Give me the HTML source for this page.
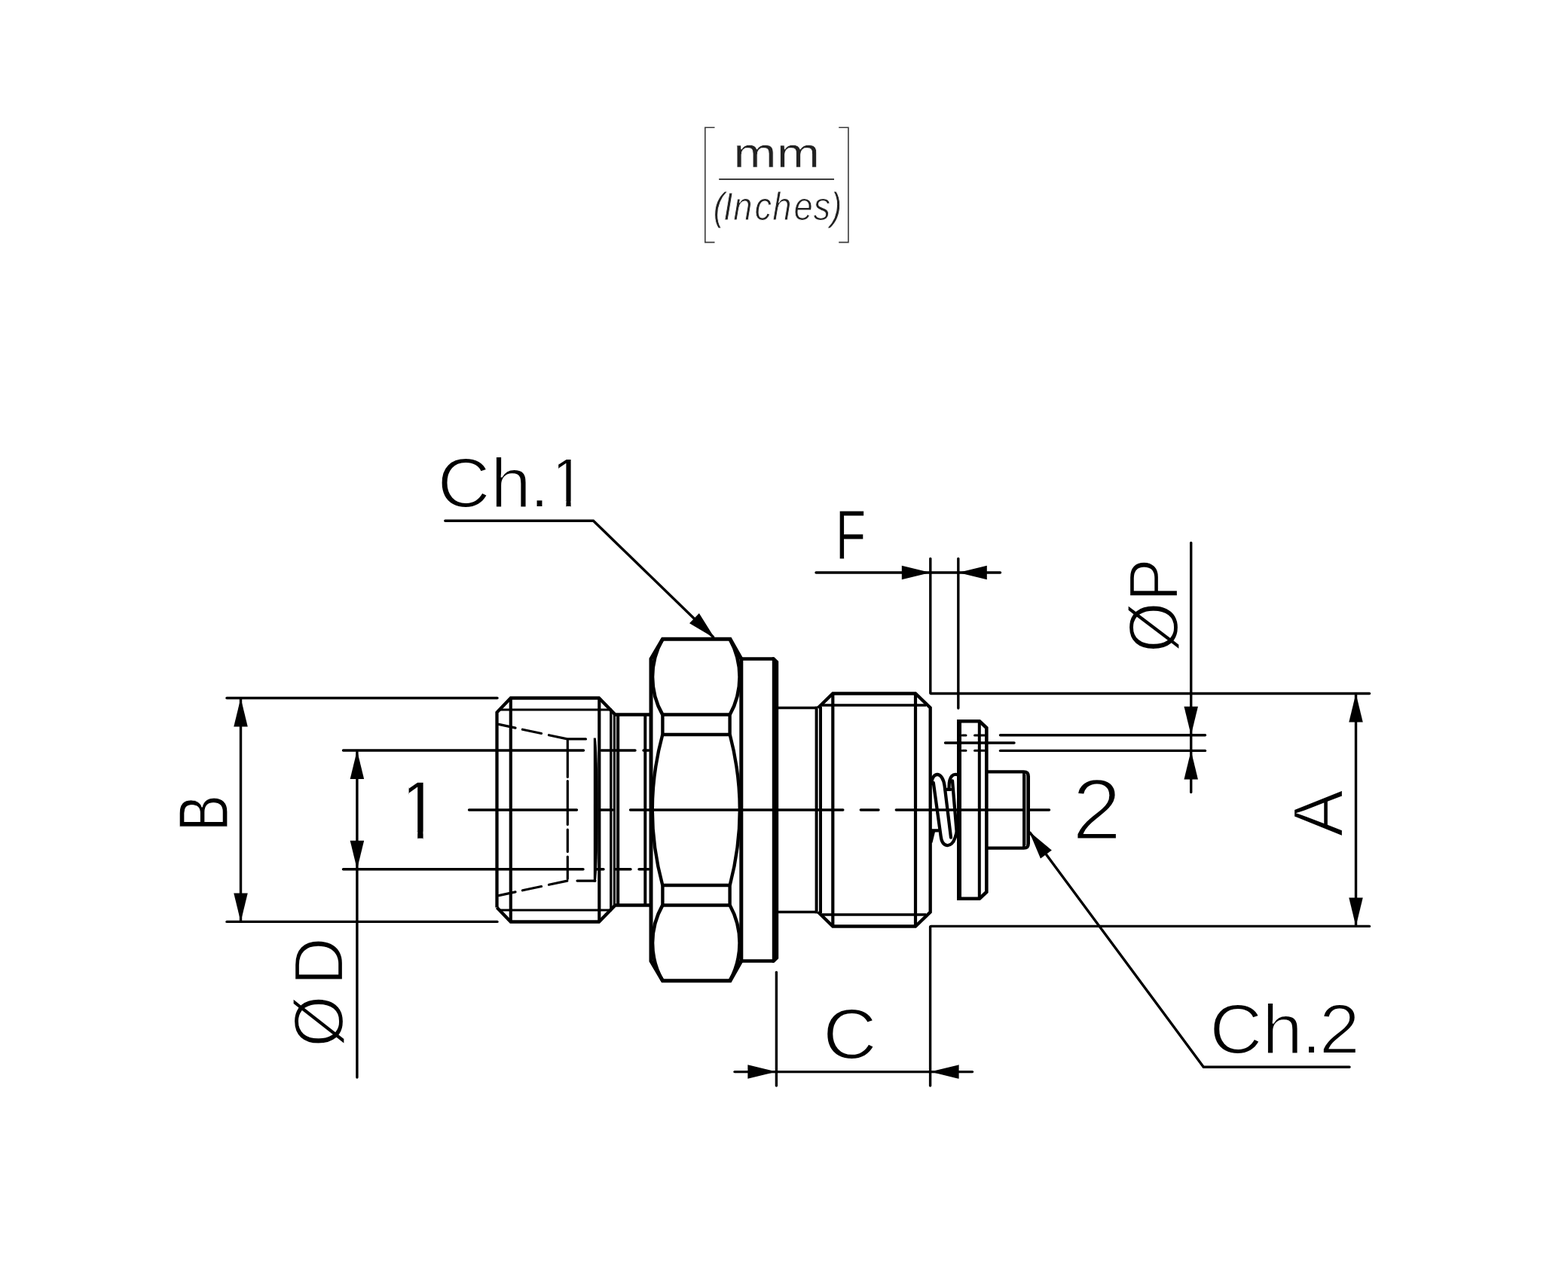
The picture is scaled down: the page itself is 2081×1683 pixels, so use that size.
<!DOCTYPE html>
<html lang="en">
<head>
<meta charset="utf-8">
<title>Dimensional drawing</title>
<style>
html,body{margin:0;padding:0;background:#fff}
body{width:2081px;height:1683px;overflow:hidden}
svg{display:block}
svg text{font-family:"Liberation Sans",sans-serif;white-space:pre}
</style>
</head>
<body>
<svg width="2081" height="1683" viewBox="0 0 2081 1683">
<rect width="2081" height="1683" fill="#fff"/>
<g id="units" stroke="#3c3c3c" fill="none" stroke-width="1.6">
<path d="M948.5 169.2H935.8V321.6H948.5"/>
<path d="M1113.2 169.2H1125.9V321.6H1113.2"/>
<path d="M954.2 237.9H1107" stroke="#222" stroke-width="1.8"/>
</g>
<g id="unit-text">
<text transform="translate(0 222) scale(1.2500 1)" x="778.51 824.51" font-size="55.2" fill="#222" stroke="#fff" stroke-width="0.6">mm</text>
<text transform="translate(0 292.1) scale(0.8900 1)" x="1063.42 1078.63 1093.6 1125.42 1151.92 1183.74 1212.91 1238.55" font-size="51" fill="#222" font-style="italic" stroke="#fff" stroke-width="1">(Inches)</text>
</g>
<g id="dims" stroke="#000" fill="none" stroke-linecap="round">
<line x1="301" y1="926.5" x2="660" y2="926.5" stroke-width="3.4"/>
<line x1="301" y1="1223.4" x2="660" y2="1223.4" stroke-width="3.4"/>
<line x1="319.5" y1="928" x2="319.5" y2="1222" stroke-width="3.4"/>
<polygon points="319.5,926.5 328.75,964.5 310.25,964.5" fill="#000" stroke="none"/>
<polygon points="319.5,1223.4 310.25,1185.4 328.75,1185.4" fill="#000" stroke="none"/>
<line x1="455.5" y1="996" x2="774.5" y2="996" stroke-width="3.4"/>
<line x1="455.5" y1="1153.8" x2="774" y2="1153.8" stroke-width="3.4"/>
<line x1="473.9" y1="998" x2="473.9" y2="1430" stroke-width="3.4"/>
<polygon points="473.9,996 483.15,1034 464.65,1034" fill="#000" stroke="none"/>
<polygon points="473.9,1153.8 464.65,1115.8 483.15,1115.8" fill="#000" stroke="none"/>
<line x1="798" y1="996" x2="843" y2="996" stroke-width="3.4"/>
<line x1="854" y1="996" x2="861" y2="996" stroke-width="3.4"/>
<line x1="792" y1="1153.8" x2="801" y2="1153.8" stroke-width="3.4"/>
<line x1="816" y1="1153.8" x2="837" y2="1153.8" stroke-width="3.4"/>
<line x1="848" y1="1153.8" x2="861" y2="1153.8" stroke-width="3.4"/>
<line x1="622.5" y1="1075" x2="765.5" y2="1075" stroke-width="3.4"/>
<line x1="797" y1="1075" x2="813" y2="1075" stroke-width="3.4"/>
<line x1="836.5" y1="1075" x2="1118.8" y2="1075" stroke-width="3.4"/>
<line x1="1142.3" y1="1075" x2="1166" y2="1075" stroke-width="3.4"/>
<line x1="1189.3" y1="1075" x2="1392.5" y2="1075" stroke-width="3.4"/>
<line x1="1083" y1="760" x2="1327.5" y2="760" stroke-width="3.4"/>
<line x1="1234.8" y1="741.5" x2="1234.8" y2="920" stroke-width="3.4"/>
<line x1="1271.8" y1="741.5" x2="1271.8" y2="940" stroke-width="3.4"/>
<polygon points="1234.8,760 1196.8,769.25 1196.8,750.75" fill="#000" stroke="none"/>
<polygon points="1271.8,760 1309.8,750.75 1309.8,769.25" fill="#000" stroke="none"/>
<line x1="1235.5" y1="920.5" x2="1817.5" y2="920.5" stroke-width="3.4"/>
<line x1="1235.5" y1="1229.4" x2="1817.5" y2="1229.4" stroke-width="3.4"/>
<line x1="1799.5" y1="922" x2="1799.5" y2="1228" stroke-width="3.4"/>
<polygon points="1799.5,920.5 1808.75,958.5 1790.25,958.5" fill="#000" stroke="none"/>
<polygon points="1799.5,1229.4 1790.25,1191.4 1808.75,1191.4" fill="#000" stroke="none"/>
<line x1="1580.7" y1="720.5" x2="1580.7" y2="1051.5" stroke-width="3.4"/>
<line x1="1327.5" y1="975.7" x2="1599.5" y2="975.7" stroke-width="3.4"/>
<line x1="1327.5" y1="996.4" x2="1599.5" y2="996.4" stroke-width="3.4"/>
<line x1="1254.5" y1="986" x2="1346" y2="986" stroke-width="3.4"/>
<polygon points="1580.7,975.7 1571.45,937.7 1589.95,937.7" fill="#000" stroke="none"/>
<polygon points="1580.7,996.4 1589.95,1034.4 1571.45,1034.4" fill="#000" stroke="none"/>
<line x1="975" y1="1422.6" x2="1290.5" y2="1422.6" stroke-width="3.4"/>
<line x1="1030.4" y1="1290.5" x2="1030.4" y2="1441" stroke-width="3.4"/>
<line x1="1234.6" y1="1230" x2="1234.6" y2="1441" stroke-width="3.4"/>
<polygon points="1030.4,1422.6 992.4,1431.85 992.4,1413.35" fill="#000" stroke="none"/>
<polygon points="1234.6,1422.6 1272.6,1413.35 1272.6,1431.85" fill="#000" stroke="none"/>
<path d="M590.8 691.2H787.5L946.5 845.5" stroke-width="3.4" fill="none" stroke-linejoin="miter"/>
<polygon points="948.7,847.2 914.99,827.37 927.87,814.1" fill="#000" stroke="none"/>
<path d="M1791 1416.2H1597.3L1367.3 1105.4" stroke-width="3.4" fill="none" stroke-linejoin="miter"/>
<polygon points="1365.8,1103.4 1395.84,1128.45 1380.97,1139.45" fill="#000" stroke="none"/>
</g>
<g id="part" stroke="#000" fill="none" stroke-linejoin="miter" stroke-linecap="butt">
<path d="M659.5 1204.5V945.5L677.8 926.5H795L816.5 948.5H862.5" stroke-width="4.3" fill="none"/>
<path d="M659.5 1204.5L677.8 1223.5H795L816.5 1201.5H862.5" stroke-width="4.3" fill="none"/>
<line x1="677.8" y1="926.5" x2="677.8" y2="1223.5" stroke-width="4.2"/>
<line x1="795.3" y1="926.5" x2="795.3" y2="1223.5" stroke-width="4.2"/>
<line x1="662" y1="942" x2="812" y2="942" stroke-width="3.2"/>
<line x1="662" y1="1208" x2="812" y2="1208" stroke-width="3.2"/>
<line x1="810.8" y1="942" x2="810.8" y2="1208" stroke-width="3.4"/>
<line x1="815.4" y1="947" x2="815.4" y2="1203" stroke-width="3.2"/>
<line x1="820.1" y1="948.5" x2="820.1" y2="1201.5" stroke-width="4.2"/>
<line x1="856.3" y1="948.5" x2="856.3" y2="1201.5" stroke-width="4"/>
<g stroke-width="3.2" stroke-linecap="round">
<path d="M662 961.4L684 966.1M693.5 968.2L718.5 973.5M728.5 975.7L752.8 980.9H777.5"/>
<path d="M662 1188.6L684 1183.9M693.5 1181.8L718.5 1176.5M728.5 1174.3L752.8 1169.1M766 1169.1H790"/>
<path d="M753.3 982.5V1031.5M753.3 1036.5V1094.5M753.3 1101V1130.5M753.3 1137V1166.5"/>
</g>
<path d="M787.8 979.5H790.8C794.6 1010 794.6 1140 790.8 1170.5H787.8Z" fill="#000" stroke="none"/>
<path d="M864 874.5L879.5 848.3H969L983.8 874.5V1275.5L969 1301.7H879.5L864 1275.5Z" stroke-width="5" fill="none"/>
<path d="M879.3 848.3A101.01 101.01 0 0 0 879.3 948.5M968.7 848.3A103.74 103.74 0 0 1 968.7 948.5" stroke-width="4.6" fill="none"/>
<path d="M879.3 1301.7A101.01 101.01 0 0 1 879.3 1201.5M968.7 1301.7A103.74 103.74 0 0 0 968.7 1201.5" stroke-width="4.6" fill="none"/>
<path d="M879.4 948.5H968.6V975H879.4Z" stroke-width="4.4" fill="none"/>
<path d="M879.4 1201.5H968.6V1175H879.4Z" stroke-width="4.4" fill="none"/>
<path d="M879.3 975A382.59 382.59 0 0 0 879.3 1175M968.7 975A394.05 394.05 0 0 1 968.7 1175" stroke-width="4.4" fill="none"/>
<path d="M984 874.5H1027M984 1275.5H1027" stroke-width="4.5" fill="none"/>
<path d="M1024.8 872.2H1027.6L1033.2 877.8V1272.2L1027.6 1277.8H1024.8Z" fill="#000" stroke="none"/>
<line x1="1033" y1="939.5" x2="1085" y2="939.5" stroke-width="3.6"/>
<line x1="1033" y1="1210.5" x2="1085" y2="1210.5" stroke-width="3.6"/>
<path d="M1085.7 939.5L1105.3 920.5H1215L1234.7 939.5V1210.5L1215 1229.5H1105.3L1085.7 1210.5" stroke-width="4.3" fill="none"/>
<line x1="1083.6" y1="937.7" x2="1083.6" y2="1212.3" stroke-width="4"/>
<line x1="1089" y1="938" x2="1089" y2="1212" stroke-width="4"/>
<line x1="1105.3" y1="920.5" x2="1105.3" y2="1229.5" stroke-width="4.2"/>
<line x1="1215" y1="920.5" x2="1215" y2="1229.5" stroke-width="4.2"/>
<line x1="1091" y1="936" x2="1229" y2="936" stroke-width="3.4"/>
<line x1="1091" y1="1214" x2="1229" y2="1214" stroke-width="3.4"/>
<g stroke-width="4.3" stroke-linecap="round" stroke-linejoin="round">
<path d="M1236 1040C1237.5 1023.5 1251 1023.5 1253.6 1043L1262 1111.5"/>
<path d="M1238.8 1039L1248.6 1109.7C1250.5 1125.5 1263 1126 1267.5 1112L1270 1104"/>
<path d="M1259.5 1046C1259.2 1028.5 1266 1026.8 1271 1028.3"/>
<path d="M1264 1036.5L1270 1108"/>
<path d="M1254.5 1047.9H1261.5M1236 1102.3H1245"/>
<path d="M1236.3 1103H1240.5L1236.8 1118Z" fill="#000" stroke-width="1.5"/>
</g>
<path d="M1273 957.3H1300L1309.3 966V1184L1300 1192.7H1273" stroke-width="4.6" fill="none"/>
<line x1="1273" y1="955" x2="1273" y2="1195" stroke-width="6"/>
<line x1="1299.8" y1="957.3" x2="1299.8" y2="1192.7" stroke-width="4"/>
<g stroke-width="3" stroke-linecap="round">
<path d="M1277 976H1282M1293.5 976H1306.5"/>
<path d="M1277 996.2H1282M1293.5 996.2H1306.5"/>
</g>
<rect x="1359" y="1028" width="5" height="94" fill="#858585" stroke="none"/>
<path d="M1309.3 1024.3H1358.6Q1364.9 1024.3 1364.9 1030.6V1119.4Q1364.9 1125.7 1358.6 1125.7H1309.3" stroke-width="4.2" fill="none"/>
<line x1="1358.9" y1="1026" x2="1358.9" y2="1124" stroke-width="3.7"/>
</g>
<defs>
<clipPath id="c1a"><path d="M570 590H728V690H570ZM741.2 600H758V664.8H741.2ZM751.4 664.5H757.6V676H751.4Z"/></clipPath>
<clipPath id="c1b"><path d="M542.6 1030H562V1103.6H542.6ZM554.2 1103.3H561.6V1116H554.2Z"/></clipPath>
</defs>
<g id="labels" fill="#000">
<g clip-path="url(#c1a)"><text transform="translate(0 672.7) scale(1.0400 1)" x="558.11 625.86 675.58 697.8" font-size="93.5" stroke="#fff" stroke-width="2.2">Ch.1</text></g>
<text transform="translate(0 1397.5) scale(1.0400 1)" x="1543.4 1610.67 1660.49 1683.5" font-size="93.5" stroke="#fff" stroke-width="2.2">Ch.2</text>
<text transform="translate(1108.73 741.6) scale(0.7207 1)" font-size="91.93" stroke="#fff" stroke-width="1">F</text>
<text transform="translate(1091.93 1405.45) scale(1.0423 1)" font-size="95.41" stroke="#fff" stroke-width="2.2">C</text>
<g clip-path="url(#c1b)"><text transform="translate(0 1114)" x="524.69" font-size="112.2" stroke="#fff" stroke-width="2.4">1</text></g>
<text transform="translate(1422.79 1114.4) scale(1.0335 1)" font-size="114.41" stroke="#fff" stroke-width="3.2">2</text>
<text transform="translate(301.6 1102.9) rotate(-90) scale(0.7662 1)" font-size="93.38" stroke="#fff" stroke-width="1.2">B</text>
<text transform="translate(1782.4 1110.64) rotate(-90) scale(1.0023 1)" font-size="93.82" stroke="#fff" stroke-width="2.2">A</text>
<text transform="translate(1563.3 863.07) rotate(-90) scale(0.9200 1)" x="-3.26 70.57" font-size="93" stroke="#fff" stroke-width="2.2">ØP</text>
<text transform="translate(455.2 1386.79) rotate(-90) scale(0.9500 1)" x="-3.24 83.16" font-size="92.5" stroke="#fff" stroke-width="2.2">ØD</text>
</g>
</svg>
</body>
</html>
